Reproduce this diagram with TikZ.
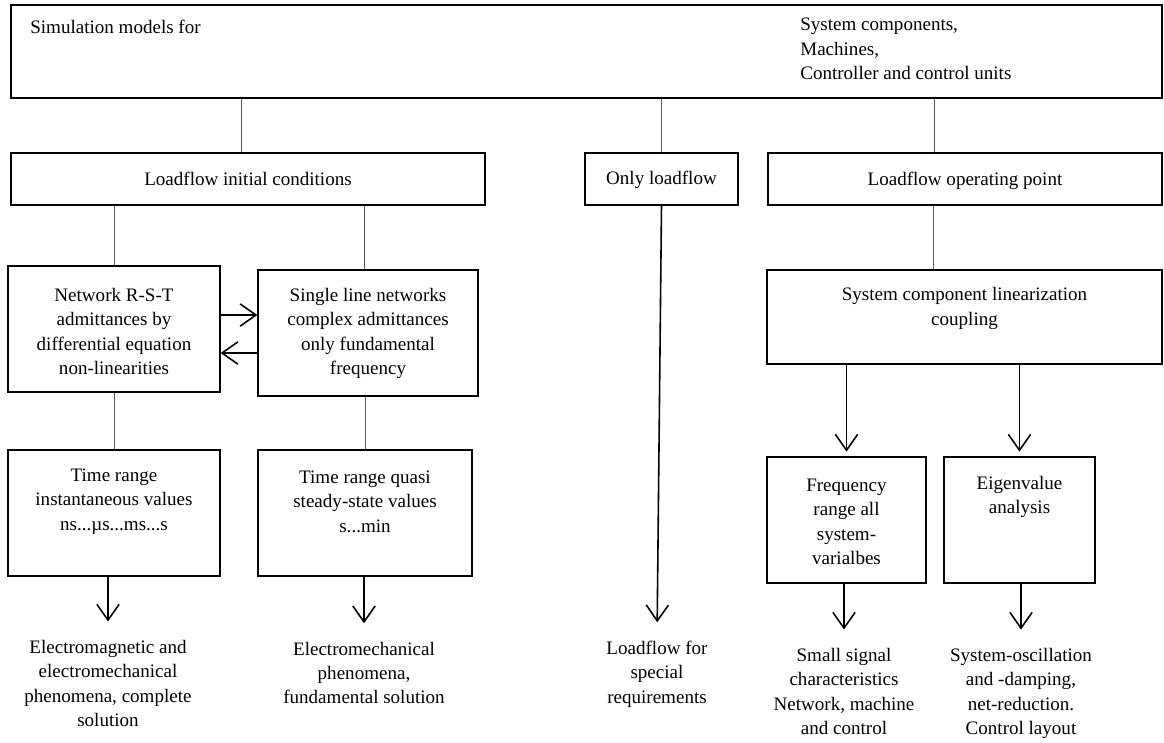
\documentclass[tikz,border=0pt]{standalone}
\usepackage{fontspec}
\setmainfont{Liberation Serif}
\usetikzlibrary{fit,arrows.meta}
\tikzset{
  box/.style={draw, line width=0.75pt, inner sep=0pt},
  txt/.style={align=center, inner sep=0pt, font=\fontsize{12pt}{15.4pt}\selectfont},
  link/.style={line width=0.6pt, black!65},
  arr/.style={line width=1pt, -{Straight Barb[length=10pt,width=14pt,line width=1pt]}},
  res/.style={arr, shorten >=11.5pt},
}
\begin{document}
\begin{tikzpicture}[x=0.63pt,y=-0.63pt]
\useasboundingbox (0,0) rectangle (1164,742);
% top box
\node[box,fit={(11,5) (1162,98)}] (top) {};
\node[txt,anchor=west] (simfor) at (30,27) {Simulation models for};
\node[txt,anchor=west,align=left] (comps) at (800,49) {System components,\\Machines,\\Controller and control units};
% loadflow row
\node[box,fit={(11,153) (485,205)}] (lic) {};
\node[txt] (lictxt) at (248,179) {Loadflow initial conditions};
\node[box,fit={(585,153) (738,205)}] (only) {};
\node[txt] (onlytxt) at (661.5,180) {Only loadflow};
\node[box,fit={(768,153) (1162,205)}] (lop) {};
\node[txt] (loptxt) at (965,181) {Loadflow operating point};
\draw[link] ([xshift=-4.4pt]lic.north) -- ([xshift=-4.4pt]lic.north |- top.south);
\draw[link] (only.north) -- (only.north |- top.south);
\draw[link] ([xshift=-19.5pt]lop.north) -- ([xshift=-19.5pt]lop.north |- top.south);
% networks
\node[box,fit={(8,266) (220,392)}] (net) {};
\node[txt] (nettxt) at (114,331.5) {Network R-S-T\\admittances by\\differential equation\\non-linearities};
\node[box,fit={(258,270) (478,396)}] (sgl) {};
\node[txt] (sgltxt) at (368,333.5) {Single line networks\\complex admittances\\only fundamental\\frequency};
\node[box,fit={(767,270) (1162,364)}] (lin) {};
\node[txt] (lintxt) at (964.5,308.5) {System component linearization\\coupling};
\draw[link] (net.north) -- (net.north |- lic.south);
\draw[link] ([xshift=-2.5pt]sgl.north) -- ([xshift=-2.5pt]sgl.north |- lic.south);
\draw[link] ([xshift=-19.5pt]lin.north) -- ([xshift=-19.5pt]lin.north |- lop.south);
\draw[arr] ([yshift=8.8pt]net.east) -- ([yshift=8.8pt]net.east -| sgl.west);
\draw[arr] ([yshift=-12.6pt]sgl.west) -- ([yshift=-12.6pt]sgl.west -| net.east);
% time and frequency ranges
\node[box,fit={(8,450) (220,576)}] (tinst) {};
\node[txt] (tinsttxt) at (114,501.5) {Time range\\instantaneous values\\ns...µs...ms...s};
\node[box,fit={(258,450) (472,576)}] (tquasi) {};
\node[txt] (tquasitxt) at (365,501.5) {Time range quasi\\steady-state values\\s...min};
\node[box,fit={(767,457) (926,583)}] (freq) {};
\node[txt] (freqtxt) at (846.5,522) {Frequency\\range all\\system-\\varialbes};
\node[box,fit={(944,457) (1095,583)}] (eig) {};
\node[txt] (eigtxt) at (1019.5,497) {Eigenvalue\\analysis};
\draw[link] (tinst.north -| net.south) -- (net.south);
\draw[link] (tquasi.north) -- (tquasi.north |- sgl.south);
\draw[arr, shorten >=3pt] (freq.north |- lin.south) -- (freq.north);
\draw[arr, shorten >=3pt] (eig.north |- lin.south) -- (eig.north);
% results
\node[txt] (emag) at (108,683.5) {Electromagnetic and\\electromechanical\\phenomena, complete\\solution};
\node[txt] (emech) at (364,673) {Electromechanical\\phenomena,\\fundamental solution};
\node[txt] (lfs) at (657,674) {Loadflow for\\special\\requirements};
\node[txt] (small) at (844,691.5) {Small signal\\characteristics\\Network, machine\\and control};
\node[txt] (osc) at (1021,693.5) {System-oscillation\\and -damping,\\net-reduction.\\Control layout};
\draw[res] (emag.north |- tinst.south) -- (emag.north);
\draw[res] (emech.north |- tquasi.south) -- (emech.north);
\draw[res] (only.south) -- (lfs.north);
\draw[res] (small.north |- freq.south) -- (small.north);
\draw[res] (osc.north |- eig.south) -- (osc.north);
\end{tikzpicture}
\end{document}
